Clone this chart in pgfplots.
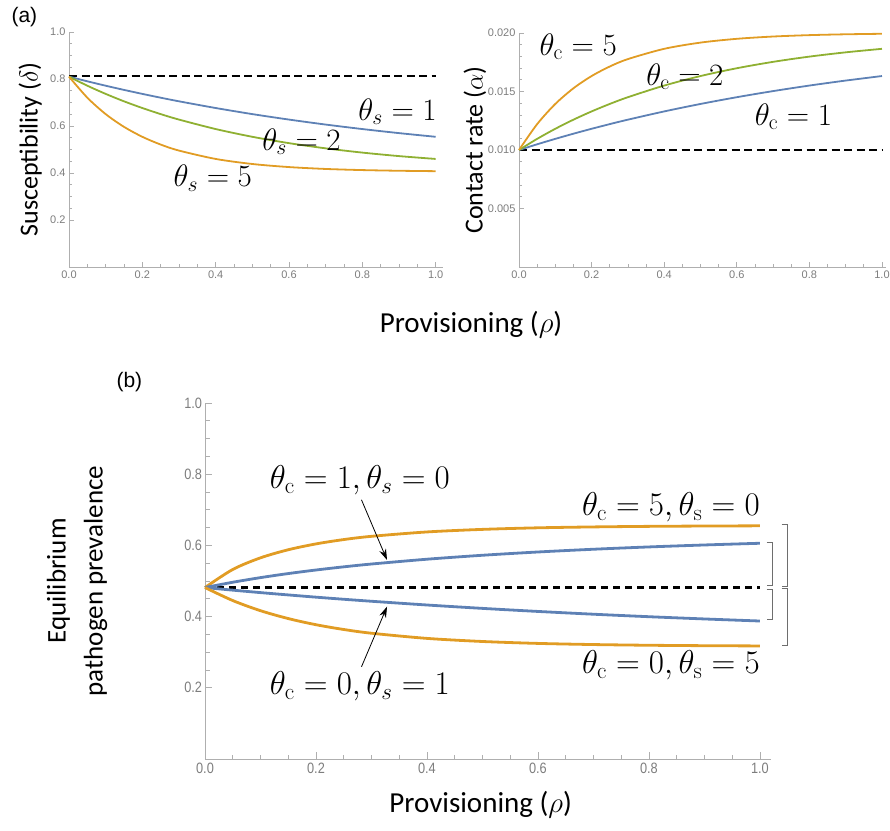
\RequirePackage{fix-cm}
\documentclass[border=0pt]{standalone}
\usepackage{fontspec}
\setmainfont{Carlito}
\setmathrm{Latin Modern Roman}
\newfontfamily\tickfont{Liberation Sans}
\usepackage{pgfplots}
\pgfplotsset{compat=1.18}
\usetikzlibrary{arrows.meta}
\definecolor{mblue}{RGB}{94,129,181}
\definecolor{morange}{RGB}{225,156,36}
\definecolor{mgreen}{RGB}{143,176,50}
\definecolor{axgray}{RGB}{175,175,175}
\definecolor{tickgray}{RGB}{125,125,125}
\definecolor{brgray}{RGB}{110,110,110}
\tikzset{thlab/.style={font=\fontsize{31}{31}\selectfont},
         thlabb/.style={font=\fontsize{33}{33}\selectfont}}
\pgfplotsset{
  mstyle/.style={
    scale only axis, axis lines*=left, clip=false,
    axis line style={draw=axgray, line width=0.9pt},
    tick align=inside,
    every tick/.style={draw=axgray, line width=0.7pt},
    /pgf/number format/assume math mode=true,
    tick label style={text=tickgray},
    xmin=0, ymin=0,
    xtick={0,0.2,0.4,0.6,0.8,1},
    minor x tick num=3,
    xticklabel style={/pgf/number format/.cd, fixed, fixed zerofill, precision=1},
  },
}
\begin{document}
\begin{tikzpicture}
\useasboundingbox (0,0) rectangle (890pt,830pt);
\node[anchor=west, font=\tickfont\fontsize{21}{21}\selectfont] at (8pt,813pt) {(a)};
\node[anchor=west, font=\tickfont\fontsize{21}{21}\selectfont] at (113pt,448pt) {(b)};

% ---------- panel a, left ----------
\begin{axis}[mstyle,
  at={(69pt,563pt)}, anchor=south west,
  width=374pt, height=235pt,
  xmax=1.02, ymax=1,
  ytick={0.2,0.4,0.6,0.8,1.0},
  minor y tick num=3,
  major tick length=5pt, minor tick length=3pt,
  tick label style={font=\tickfont\fontsize{11}{11}\selectfont},
  yticklabel style={/pgf/number format/.cd, fixed, fixed zerofill, precision=1},
  ylabel={Susceptibility ($\delta$)},
  ylabel style={at={(axis description cs:-0.104,0.5)}, anchor=center, font=\fontsize{26}{30}\selectfont},
]
\addplot[black, line width=2pt, dash pattern=on 8pt off 4.5pt] coordinates {(0,0.812) (1,0.812)};
\addplot[mblue, line width=1.8pt, smooth] coordinates {
(0,0.81) (0.05,0.7902) (0.1,0.7714) (0.15,0.7536) (0.2,0.7366) (0.25,0.7204) (0.3,0.7050)
(0.4,0.6765) (0.5,0.6506) (0.6,0.6273) (0.7,0.6061) (0.8,0.5870) (0.9,0.5697) (1,0.5540)};
\addplot[mgreen, line width=1.8pt, smooth] coordinates {
(0,0.81) (0.05,0.7714) (0.1,0.7366) (0.15,0.7050) (0.2,0.6765) (0.25,0.6506) (0.3,0.6273)
(0.4,0.5870) (0.5,0.5540) (0.6,0.5270) (0.7,0.5049) (0.8,0.4868) (0.9,0.4719) (1,0.4598)};
\addplot[morange, line width=1.8pt, smooth] coordinates {
(0,0.81) (0.05,0.7204) (0.1,0.6506) (0.15,0.5963) (0.2,0.5540) (0.25,0.5210) (0.3,0.4954)
(0.4,0.4598) (0.5,0.4383) (0.6,0.4252) (0.7,0.4172) (0.8,0.4124) (0.9,0.4095) (1,0.4077)};
\node[thlab] at (axis cs:0.896,0.66) {$\theta_s=1$};
\node[thlab] at (axis cs:0.634,0.533) {$\theta_s=2$};
\node[thlab] at (axis cs:0.392,0.379) {$\theta_s=5$};
\end{axis}

% ---------- panel a, right ----------
\begin{axis}[mstyle,
  at={(519pt,563pt)}, anchor=south west,
  width=366.6pt, height=234pt,
  xmax=1.01, ymax=0.02,
  ytick={0.005,0.010,0.015,0.020},
  minor y tick num=4,
  major tick length=5pt, minor tick length=3pt,
  tick label style={font=\tickfont\fontsize{11}{11}\selectfont},
  scaled y ticks=false,
  yticklabel style={/pgf/number format/.cd, fixed, fixed zerofill, precision=3},
  ylabel={Contact rate ($\alpha$)},
  ylabel style={at={(axis description cs:-0.12,0.5)}, anchor=center, font=\fontsize{26}{30}\selectfont},
]
\addplot[black, line width=2pt, dash pattern=on 8pt off 4.5pt] coordinates {(0,0.01) (1,0.01)};
\addplot[mblue, line width=1.8pt, smooth] coordinates {
(0,0.01) (0.05,0.010488) (0.1,0.010952) (0.15,0.011393) (0.2,0.011813) (0.25,0.012212) (0.3,0.012592)
(0.4,0.013297) (0.5,0.013935) (0.6,0.014512) (0.7,0.015034) (0.8,0.015507) (0.9,0.015934) (1,0.016321)};
\addplot[mgreen, line width=1.8pt, smooth] coordinates {
(0,0.01) (0.05,0.010952) (0.1,0.011813) (0.15,0.012592) (0.2,0.013297) (0.25,0.013935) (0.3,0.014512)
(0.4,0.015507) (0.5,0.016321) (0.6,0.016988) (0.7,0.017534) (0.8,0.017981) (0.9,0.018347) (1,0.018647)};
\addplot[morange, line width=1.8pt, smooth] coordinates {
(0,0.01) (0.05,0.012212) (0.1,0.013935) (0.15,0.015276) (0.2,0.016321) (0.25,0.017135) (0.3,0.017769)
(0.4,0.018647) (0.5,0.019179) (0.6,0.019502) (0.7,0.019698) (0.8,0.019817) (0.9,0.019889) (1,0.019933)};
\node[thlab] at (axis cs:0.163,0.01883) {$\theta_{\mathrm{c}}=5$};
\node[thlab] at (axis cs:0.457,0.01626) {$\theta_{\mathrm{c}}=2$};
\node[thlab] at (axis cs:0.756,0.01285) {$\theta_{\mathrm{c}}=1$};
\end{axis}
\node[font=\fontsize{29}{30}\selectfont] at (471pt,505pt) {Provisioning ($\rho$)};

% ---------- panel b ----------
\begin{axis}[mstyle,
  at={(205pt,71pt)}, anchor=south west,
  width=566pt, height=356pt,
  xmax=1.02, ymax=1,
  ytick={0.2,0.4,0.6,0.8,1.0},
  minor y tick num=3,
  major tick length=7pt, minor tick length=4.5pt,
  tick label style={font=\tickfont\fontsize{15}{15}\selectfont, xscale=0.85},
  yticklabel style={/pgf/number format/.cd, fixed, fixed zerofill, precision=1},
  xlabel={Provisioning ($\rho$)},
  xlabel style={at={(axis description cs:0.487,-0.128)}, anchor=center, font=\fontsize{29}{30}\selectfont},
  ylabel={Equilibrium\\pathogen prevalence},
  ylabel style={at={(axis description cs:-0.226,0.5)}, anchor=center, align=center, font=\fontsize{27}{37}\selectfont},
]
\addplot[black, line width=3pt, dash pattern=on 7pt off 5pt] coordinates {(0,0.4816) (1,0.4816)};
\addplot[morange, line width=2.8pt, smooth] coordinates {
(0,0.4816) (0.05,0.5324) (0.1,0.5651) (0.15,0.5878) (0.2,0.6042) (0.25,0.6164) (0.3,0.6255)
(0.4,0.6378) (0.5,0.6450) (0.6,0.6494) (0.7,0.6519) (0.8,0.6535) (0.9,0.6544) (1,0.6550)};
\addplot[mblue, line width=2.8pt, smooth] coordinates {
(0,0.4816) (0.05,0.4965) (0.1,0.5095) (0.15,0.5209) (0.2,0.5309) (0.25,0.5398) (0.3,0.5477)
(0.4,0.5612) (0.5,0.5723) (0.6,0.5815) (0.7,0.5892) (0.8,0.5957) (0.9,0.6012) (1,0.6060)};
\addplot[mblue, line width=2.8pt, smooth] coordinates {
(0,0.4816) (0.05,0.4743) (0.1,0.4674) (0.15,0.4609) (0.2,0.4546) (0.25,0.4487) (0.3,0.4431)
(0.4,0.4326) (0.5,0.4231) (0.6,0.4145) (0.7,0.4067) (0.8,0.3997) (0.9,0.3934) (1,0.3876)};
\addplot[morange, line width=2.8pt, smooth] coordinates {
(0,0.4816) (0.05,0.4451) (0.1,0.4166) (0.15,0.3945) (0.2,0.3772) (0.25,0.3638) (0.3,0.3533)
(0.4,0.3388) (0.5,0.3301) (0.6,0.3247) (0.7,0.3215) (0.8,0.3195) (0.9,0.3183) (1,0.3176)};
\node[thlabb] at (axis cs:0.279,0.784) {$\theta_{\mathrm{c}}=1, \theta_s=0$};
\node[thlabb, anchor=east, inner sep=0pt] at (axis cs:1.0,0.706) {$\theta_{\mathrm{c}}=5, \theta_{\mathrm{s}}=0$};
\node[thlabb, anchor=east, inner sep=0pt] at (axis cs:1.0,0.264) {$\theta_{\mathrm{c}}=0, \theta_{\mathrm{s}}=5$};
\node[thlabb] at (axis cs:0.279,0.203) {$\theta_{\mathrm{c}}=0, \theta_s=1$};
\draw[black, line width=0.8pt, -{Stealth[length=11pt,width=7pt]}] (axis cs:0.282,0.728) -- (axis cs:0.328,0.559);
\draw[black, line width=0.8pt, -{Stealth[length=11pt,width=7pt]}] (axis cs:0.282,0.259) -- (axis cs:0.328,0.428);
% brackets
\draw[brgray, line width=0.9pt] (axis cs:1.012,0.608) -- (axis cs:1.022,0.608) -- (axis cs:1.022,0.488) -- (axis cs:1.012,0.488);
\draw[brgray, line width=0.9pt] (axis cs:1.012,0.476) -- (axis cs:1.022,0.476) -- (axis cs:1.022,0.391) -- (axis cs:1.012,0.391);
\draw[brgray, line width=0.9pt] (axis cs:1.039,0.660) -- (axis cs:1.049,0.660) -- (axis cs:1.049,0.486) -- (axis cs:1.039,0.486);
\draw[brgray, line width=0.9pt] (axis cs:1.039,0.478) -- (axis cs:1.049,0.478) -- (axis cs:1.049,0.3185) -- (axis cs:1.039,0.3185);
\end{axis}
\end{tikzpicture}
\end{document}
